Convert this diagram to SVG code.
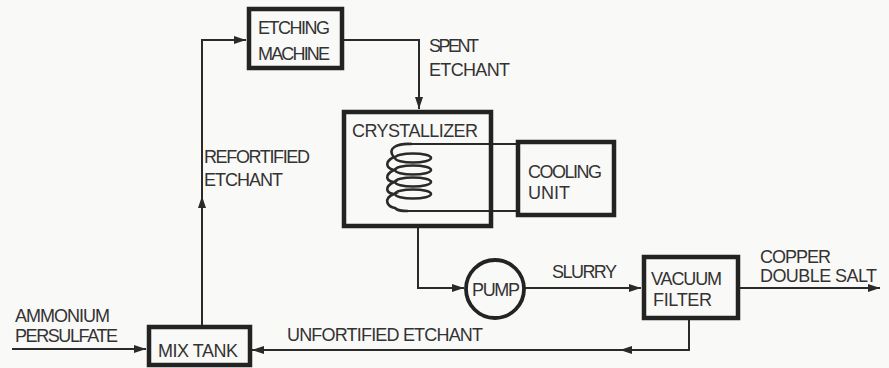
<svg xmlns="http://www.w3.org/2000/svg" width="889" height="368" viewBox="0 0 889 368">
<defs>
<marker id="ah" viewBox="0 0 12 8" refX="12" refY="4" markerWidth="12" markerHeight="8" markerUnits="userSpaceOnUse" orient="auto">
<path d="M0,0 L12,4 L0,8 Z" fill="#2a2a2a"/>
</marker>
<style>
.box{fill:none;stroke:#232323;stroke-width:4.5}
.ln{fill:none;stroke:#2a2a2a;stroke-width:2}
.coil{fill:none;stroke:#2a2a2a;stroke-width:2.6}
.t{font-family:"Liberation Sans","DejaVu Sans",sans-serif;font-size:18px;fill:#333;lengthAdjust:spacingAndGlyphs}
</style>
</defs>
<rect width="889" height="368" fill="#f9f9f7"/>
<g id="connectors">
<path class="ln" d="M202,326 L202,196" marker-end="url(#ah)"/>
<path class="ln" d="M202,198 L202,40 L246,40" marker-end="url(#ah)"/>
<path class="ln" d="M342,40 L419,40 L419,109" marker-end="url(#ah)"/>
<path class="ln" d="M418,228 L418,288 L464,288" marker-end="url(#ah)"/>
<path class="ln" d="M524,288 L641,288" marker-end="url(#ah)"/>
<path class="ln" d="M740,288 L880,288" marker-end="url(#ah)"/>
<path class="ln" d="M689,319 L689,350 L620,350" marker-end="url(#ah)"/>
<path class="ln" d="M630,350 L252,350" marker-end="url(#ah)"/>
<path class="ln" d="M12,349 L146,349" marker-end="url(#ah)"/>
<path class="ln" d="M412,144 L517,144"/>
<path class="ln" d="M408,211 L517,211"/>
</g>
<g id="etching-machine">
<rect class="box" x="249" y="9" width="93" height="59"/>
<text class="t" x="258" y="34" textLength="72">ETCHING</text>
<text class="t" x="258" y="60" textLength="72">MACHINE</text>
</g>
<g id="crystallizer">
<rect class="box" x="344" y="112" width="147" height="114"/>
<text class="t" x="352" y="137" textLength="126">CRYSTALLIZER</text>
<path class="coil" d="M412,144 C398,143 386,148 394,157 C384,162 386,168 394,170 C384,175 386,181 394,182 C384,187 386,193 394,194 C382,199 388,207 395,208 C398,211 402,211 408,211"/>
<ellipse class="coil" cx="413" cy="158" rx="18" ry="4.5"/>
<ellipse class="coil" cx="413" cy="170" rx="18" ry="4.5"/>
<ellipse class="coil" cx="413" cy="182" rx="18" ry="4.5"/>
<ellipse class="coil" cx="413" cy="194" rx="18" ry="4.5"/>
</g>
<g id="cooling-unit">
<rect class="box" x="518" y="142" width="96" height="73"/>
<text class="t" x="528" y="178" textLength="74">COOLING</text>
<text class="t" x="528" y="199" textLength="42">UNIT</text>
</g>
<g id="pump">
<circle cx="495" cy="289" r="29" fill="none" stroke="#232323" stroke-width="3.8"/>
<text class="t" x="472" y="296" textLength="48">PUMP</text>
</g>
<g id="vacuum-filter">
<rect class="box" x="644" y="257" width="94" height="61"/>
<text class="t" x="651" y="285" textLength="71">VACUUM</text>
<text class="t" x="653" y="306" textLength="59">FILTER</text>
</g>
<g id="mix-tank">
<rect class="box" x="149" y="327" width="101" height="38"/>
<text class="t" x="158" y="357" textLength="80">MIX TANK</text>
</g>
<g id="labels">
<text class="t" x="429" y="52" textLength="50">SPENT</text>
<text class="t" x="429" y="76" textLength="81">ETCHANT</text>
<text class="t" x="204" y="163" textLength="106">REFORTIFIED</text>
<text class="t" x="204" y="186" textLength="79">ETCHANT</text>
<text class="t" x="552" y="278" textLength="65">SLURRY</text>
<text class="t" x="760" y="263" textLength="71">COPPER</text>
<text class="t" x="760" y="282" textLength="117">DOUBLE SALT</text>
<text class="t" x="15" y="322" textLength="95">AMMONIUM</text>
<text class="t" x="15" y="342" textLength="103">PERSULFATE</text>
<text class="t" x="287" y="341" textLength="196">UNFORTIFIED ETCHANT</text>
</g>
</svg>
